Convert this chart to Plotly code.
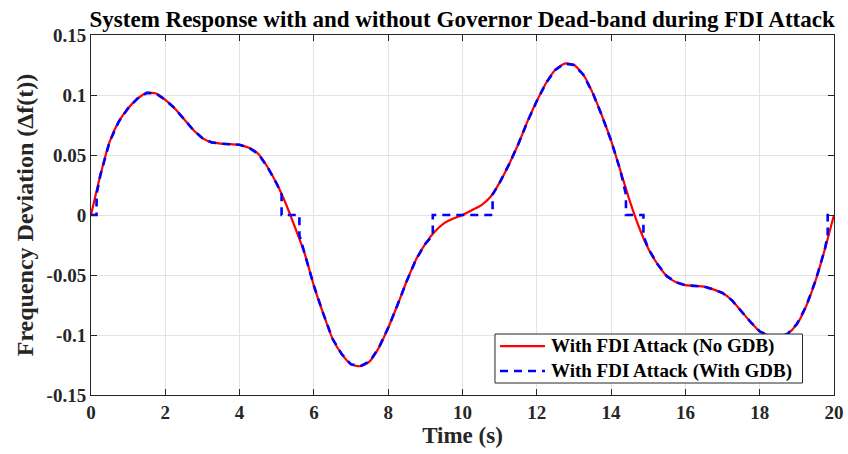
import plotly.graph_objects as go

# Time grid (s) and frequency deviation without governor dead-band
t = [0.00, 0.25, 0.50, 0.75, 1.00, 1.25, 1.50, 1.75, 2.00, 2.25,
     2.50, 2.75, 3.00, 3.25, 3.50, 3.75, 4.00, 4.25, 4.50, 4.75,
     5.00, 5.25, 5.50, 5.75, 6.00, 6.25, 6.50, 6.75, 7.00, 7.25,
     7.50, 7.75, 8.00, 8.25, 8.50, 8.75, 9.00, 9.25, 9.50, 9.75,
     10.00, 10.25, 10.50, 10.75, 11.00, 11.25, 11.50, 11.75, 12.00, 12.25,
     12.50, 12.75, 13.00, 13.25, 13.50, 13.75, 14.00, 14.25, 14.50, 14.75,
     15.00, 15.25, 15.50, 15.75, 16.00, 16.25, 16.50, 16.75, 17.00, 17.25,
     17.50, 17.75, 18.00, 18.25, 18.50, 18.75, 19.00, 19.25, 19.50, 19.75,
     20.00]
no_gdb = [0.000, 0.033, 0.061, 0.078, 0.089, 0.097, 0.1018, 0.1012, 0.096, 0.089,
          0.080, 0.071, 0.064, 0.0605, 0.0595, 0.059, 0.0585, 0.056, 0.051, 0.040,
          0.026, 0.009, -0.011, -0.032, -0.059, -0.082, -0.103, -0.116, -0.1245, -0.126,
          -0.122, -0.1105, -0.094, -0.075, -0.055, -0.037, -0.024, -0.014, -0.007, -0.003,
          0.000, 0.004, 0.008, 0.015, 0.027, 0.042, 0.059, 0.078, 0.095, 0.110,
          0.121, 0.1262, 0.125, 0.117, 0.102, 0.083, 0.062, 0.037, 0.012, -0.010,
          -0.028, -0.041, -0.051, -0.056, -0.0585, -0.059, -0.0597, -0.062, -0.065, -0.071,
          -0.080, -0.089, -0.097, -0.1005, -0.102, -0.099, -0.091, -0.076, -0.055, -0.029,
          0.000]

# Governor dead-band windows (blue curve held at zero inside them)
db_start = [0.00, 5.13, 9.20, 14.40, 19.83]
db_end = [0.15, 5.61, 10.81, 14.87, 20.00]
db_start_val = [0.000, 0.017, -0.017, 0.017, -0.017]
db_end_val = [0.017, -0.017, 0.017, -0.017, 0.000]

x_ticks = [0, 2, 4, 6, 8, 10, 12, 14, 16, 18, 20]
y_ticks = [-0.15, -0.1, -0.05, 0, 0.05, 0.1, 0.15]
y_tick_text = ["-0.15", "-0.1", "-0.05", "0", "0.05", "0.1", "0.15"]
series_names = ["With FDI Attack (No GDB)", "With FDI Attack (With GDB)"]

# Build the dead-band series from the data above
pts = []
for ti, vi in zip(t, no_gdb):
    inside = any(s <= ti <= e for s, e in zip(db_start, db_end))
    if not inside:
        pts.append((ti, vi))
for s, e, sv, ev in zip(db_start, db_end, db_start_val, db_end_val):
    pts.append((s - 1e-9, sv))
    pts.append((s, 0.0))
    pts.append((e, 0.0))
    pts.append((e + 1e-9, ev))
pts.sort(key=lambda p: p[0])
gdb_t = [p[0] for p in pts]
gdb_v = [p[1] for p in pts]

FONT = "Liberation Serif"
TXT = "#262626"
RED = "#ff0000"
BLUE = "#0000ff"
BLUE_DASH = "8px,6px"

fig = go.Figure()
fig.add_trace(go.Scatter(x=t, y=no_gdb, mode="lines", name=series_names[0], showlegend=False,
                         line=dict(color=RED, width=2.2, shape="spline", smoothing=0.6)))
fig.add_trace(go.Scatter(x=gdb_t, y=gdb_v, mode="lines", name=series_names[1], showlegend=False,
                         line=dict(color=BLUE, width=2.6, dash=BLUE_DASH)))

axis_common = dict(showgrid=True, gridcolor="#e3e3e3", gridwidth=1, zeroline=False,
                   showline=True, linecolor="#262626", linewidth=1, mirror="ticks",
                   ticks="inside", ticklen=6, tickcolor="#262626", automargin=False,
                   tickfont=dict(family=FONT, size=19, color=TXT, weight="bold"))

fig.update_xaxes(range=[0, 20], tickvals=x_ticks, **axis_common,
                 title=dict(text="Time (s)", font=dict(family=FONT, size=23, color=TXT, weight="bold"),
                            standoff=4))
fig.update_yaxes(range=[-0.15, 0.15], tickvals=y_ticks, ticktext=y_tick_text, **axis_common,
                 title=dict(text="Frequency Deviation (\u0394f(t))",
                            font=dict(family=FONT, size=24, color=TXT, weight="bold"), standoff=6))

# Compact legend box (MATLAB style), drawn in plot-area (paper) coordinates
lx0, lx1, ly0, ly1 = 0.5437, 0.9576, 0.0333, 0.1694
row_y = [0.136, 0.0667]
fig.add_shape(type="rect", xref="paper", yref="paper", x0=lx0, x1=lx1, y0=ly0, y1=ly1,
              line=dict(color="#262626", width=1), fillcolor="white", layer="above")
styles = [dict(color=RED, width=2.2), dict(color=BLUE, width=2.6, dash=BLUE_DASH)]
for name, yy, st in zip(series_names, row_y, styles):
    fig.add_shape(type="line", xref="paper", yref="paper", x0=0.5505, x1=0.611, y0=yy, y1=yy,
                  line=st, layer="above")
    fig.add_annotation(xref="paper", yref="paper", x=0.6165, y=yy, xanchor="left", yanchor="middle",
                       text=name, showarrow=False,
                       font=dict(family=FONT, size=19, color="#000000", weight="bold"))

fig.update_layout(
    width=848, height=454,
    margin=dict(l=91, r=14, t=35, b=59),
    paper_bgcolor="white", plot_bgcolor="white",
    title=dict(text="System Response with and without Governor Dead-band during FDI Attack",
               font=dict(family=FONT, size=23, color="#000000", weight="bold"),
               x=0.545, xanchor="center", y=0.958, yanchor="middle"),
    showlegend=False,
)

fig.write_html("out.html")
